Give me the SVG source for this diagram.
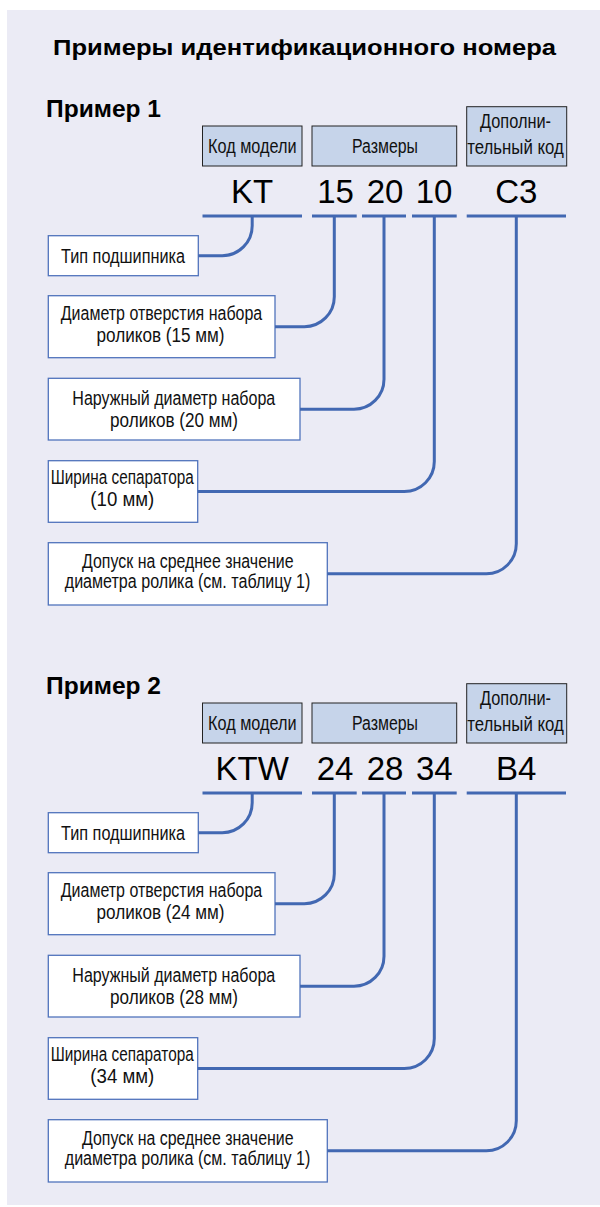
<svg xmlns="http://www.w3.org/2000/svg" width="600" height="1207" viewBox="0 0 600 1207">
<style>
.bg{fill:#EBEBF5}
.hdr{fill:#C6D4EA;stroke:#222;stroke-width:1}
.box{fill:#fff;stroke:#5073BC;stroke-width:1.3}
.ln{fill:none;stroke:#4268B2;stroke-width:3}
.t{font-family:"Liberation Sans Narrow","Liberation Sans",Arial,sans-serif;fill:#111;text-anchor:middle}
.h{font-size:20px}
.b{font-size:19.5px}
.code{font-family:"Liberation Sans",Arial,sans-serif;font-size:33px;fill:#000;text-anchor:middle}
.ttl{font-family:"Liberation Sans",Arial,sans-serif;font-weight:bold;fill:#000}
</style>
<rect class="bg" x="7" y="10" width="593" height="1195"/>
<text id="title" class="ttl" x="53" y="55" font-size="22" textLength="503" lengthAdjust="spacingAndGlyphs">Примеры идентификационного номера</text>

<g id="example1">
<text id="ex1-label" class="ttl" x="46" y="116.7" font-size="24" textLength="115" lengthAdjust="spacingAndGlyphs">Пример 1</text>
<g id="ex1-model-hdr"><rect class="hdr" x="202.5" y="126" width="99.5" height="40"/><text class="t h" x="252.3" y="153.3" textLength="88.5" lengthAdjust="spacingAndGlyphs">Код модели</text></g>
<g id="ex1-size-hdr"><rect class="hdr" x="312" y="126" width="144.7" height="40"/><text class="t h" x="385" y="153.3" textLength="66" lengthAdjust="spacingAndGlyphs">Размеры</text></g>
<g id="ex1-extra-hdr"><rect class="hdr" x="466.7" y="106.7" width="100" height="59.3"/><text class="t h" x="515.5" y="128.3" textLength="71" lengthAdjust="spacingAndGlyphs">Дополни-</text><text class="t h" x="515.5" y="154" textLength="96.5" lengthAdjust="spacingAndGlyphs">тельный код</text></g>
<g id="ex1-codes">
<text class="code" x="252.2" y="202.7">KT</text>
<text class="code" x="335.5" y="202.7">15</text>
<text class="code" x="385" y="202.7">20</text>
<text class="code" x="434" y="202.7">10</text>
<text class="code" x="516.3" y="202.7">C3</text>
</g>
<g id="ex1-type"><rect class="box" x="48.3" y="235.7" width="150" height="40"/><text class="t b" x="123" y="263.3" textLength="124" lengthAdjust="spacingAndGlyphs">Тип подшипника</text></g>
<g id="ex1-bore"><rect class="box" x="48.3" y="295.7" width="226.7" height="62"/><text class="t b" x="161.5" y="320" textLength="201.5" lengthAdjust="spacingAndGlyphs">Диаметр отверстия набора</text><text class="t b" x="160.5" y="341.7" textLength="128" lengthAdjust="spacingAndGlyphs">роликов (15 мм)</text></g>
<g id="ex1-outer"><rect class="box" x="48.3" y="378.3" width="251.7" height="61.7"/><text class="t b" x="173.8" y="405" textLength="203" lengthAdjust="spacingAndGlyphs">Наружный диаметр набора</text><text class="t b" x="174" y="426.7" textLength="128" lengthAdjust="spacingAndGlyphs">роликов (20 мм)</text></g>
<g id="ex1-width"><rect class="box" x="48.3" y="460.7" width="149.4" height="61.6"/><text class="t b" x="122.2" y="484.3" textLength="143" lengthAdjust="spacingAndGlyphs">Ширина сепаратора</text><text class="t b" x="122.3" y="506" textLength="64" lengthAdjust="spacingAndGlyphs">(10 мм)</text></g>
<g id="ex1-tol"><rect class="box" x="48.3" y="542.7" width="279" height="62.3"/><text class="t b" x="187.8" y="567.7" textLength="211.5" lengthAdjust="spacingAndGlyphs">Допуск на среднее значение</text><text class="t b" x="187.5" y="588.3" textLength="245.5" lengthAdjust="spacingAndGlyphs">диаметра ролика (см. таблицу 1)</text></g>
<g id="ex1-connectors">
<path class="ln" d="M202.5,216H302M312,216H356.7M362,216H406M412,216H456.7M466.7,216H566"/>
<path class="ln" d="M252.2,216V225.7A30,30 0 0 1 222.2,255.7H198.3"/>
<path class="ln" d="M334.3,216V296.7A30,30 0 0 1 304.3,326.7H275"/>
<path class="ln" d="M384,216V379.2A30,30 0 0 1 354,409.2H300"/>
<path class="ln" d="M434.3,216V461.5A30,30 0 0 1 404.3,491.5H197.7"/>
<path class="ln" d="M516.3,216V543.8A30,30 0 0 1 486.3,573.8H327.3"/>
</g>
</g>

<g id="example2" transform="translate(0,577)">
<text id="ex2-label" class="ttl" x="46" y="116.7" font-size="24" textLength="115" lengthAdjust="spacingAndGlyphs">Пример 2</text>
<g id="ex2-model-hdr"><rect class="hdr" x="202.5" y="126" width="99.5" height="40"/><text class="t h" x="252.3" y="153.3" textLength="88.5" lengthAdjust="spacingAndGlyphs">Код модели</text></g>
<g id="ex2-size-hdr"><rect class="hdr" x="312" y="126" width="144.7" height="40"/><text class="t h" x="385" y="153.3" textLength="66" lengthAdjust="spacingAndGlyphs">Размеры</text></g>
<g id="ex2-extra-hdr"><rect class="hdr" x="466.7" y="106.7" width="100" height="59.3"/><text class="t h" x="515.5" y="128.3" textLength="71" lengthAdjust="spacingAndGlyphs">Дополни-</text><text class="t h" x="515.5" y="154" textLength="96.5" lengthAdjust="spacingAndGlyphs">тельный код</text></g>
<g id="ex2-codes">
<text class="code" x="252.2" y="202.7">KTW</text>
<text class="code" x="335" y="202.7">24</text>
<text class="code" x="385" y="202.7">28</text>
<text class="code" x="434.3" y="202.7">34</text>
<text class="code" x="516.3" y="202.7">B4</text>
</g>
<g id="ex2-type"><rect class="box" x="48.3" y="235.7" width="150" height="40"/><text class="t b" x="123" y="263.3" textLength="124" lengthAdjust="spacingAndGlyphs">Тип подшипника</text></g>
<g id="ex2-bore"><rect class="box" x="48.3" y="295.7" width="226.7" height="62"/><text class="t b" x="161.5" y="320" textLength="201.5" lengthAdjust="spacingAndGlyphs">Диаметр отверстия набора</text><text class="t b" x="160.5" y="341.7" textLength="128" lengthAdjust="spacingAndGlyphs">роликов (24 мм)</text></g>
<g id="ex2-outer"><rect class="box" x="48.3" y="378.3" width="251.7" height="61.7"/><text class="t b" x="173.8" y="405" textLength="203" lengthAdjust="spacingAndGlyphs">Наружный диаметр набора</text><text class="t b" x="174" y="426.7" textLength="128" lengthAdjust="spacingAndGlyphs">роликов (28 мм)</text></g>
<g id="ex2-width"><rect class="box" x="48.3" y="460.7" width="149.4" height="61.6"/><text class="t b" x="122.2" y="484.3" textLength="143" lengthAdjust="spacingAndGlyphs">Ширина сепаратора</text><text class="t b" x="122.3" y="506" textLength="64" lengthAdjust="spacingAndGlyphs">(34 мм)</text></g>
<g id="ex2-tol"><rect class="box" x="48.3" y="542.7" width="279" height="62.3"/><text class="t b" x="187.8" y="567.7" textLength="211.5" lengthAdjust="spacingAndGlyphs">Допуск на среднее значение</text><text class="t b" x="187.5" y="588.3" textLength="245.5" lengthAdjust="spacingAndGlyphs">диаметра ролика (см. таблицу 1)</text></g>
<g id="ex2-connectors">
<path class="ln" d="M202.5,216H302M312,216H356.7M362,216H406M412,216H456.7M466.7,216H566"/>
<path class="ln" d="M252.2,216V225.7A30,30 0 0 1 222.2,255.7H198.3"/>
<path class="ln" d="M334.3,216V296.7A30,30 0 0 1 304.3,326.7H275"/>
<path class="ln" d="M384,216V379.2A30,30 0 0 1 354,409.2H300"/>
<path class="ln" d="M434.3,216V461.5A30,30 0 0 1 404.3,491.5H197.7"/>
<path class="ln" d="M516.3,216V543.8A30,30 0 0 1 486.3,573.8H327.3"/>
</g>
</g>
</svg>
